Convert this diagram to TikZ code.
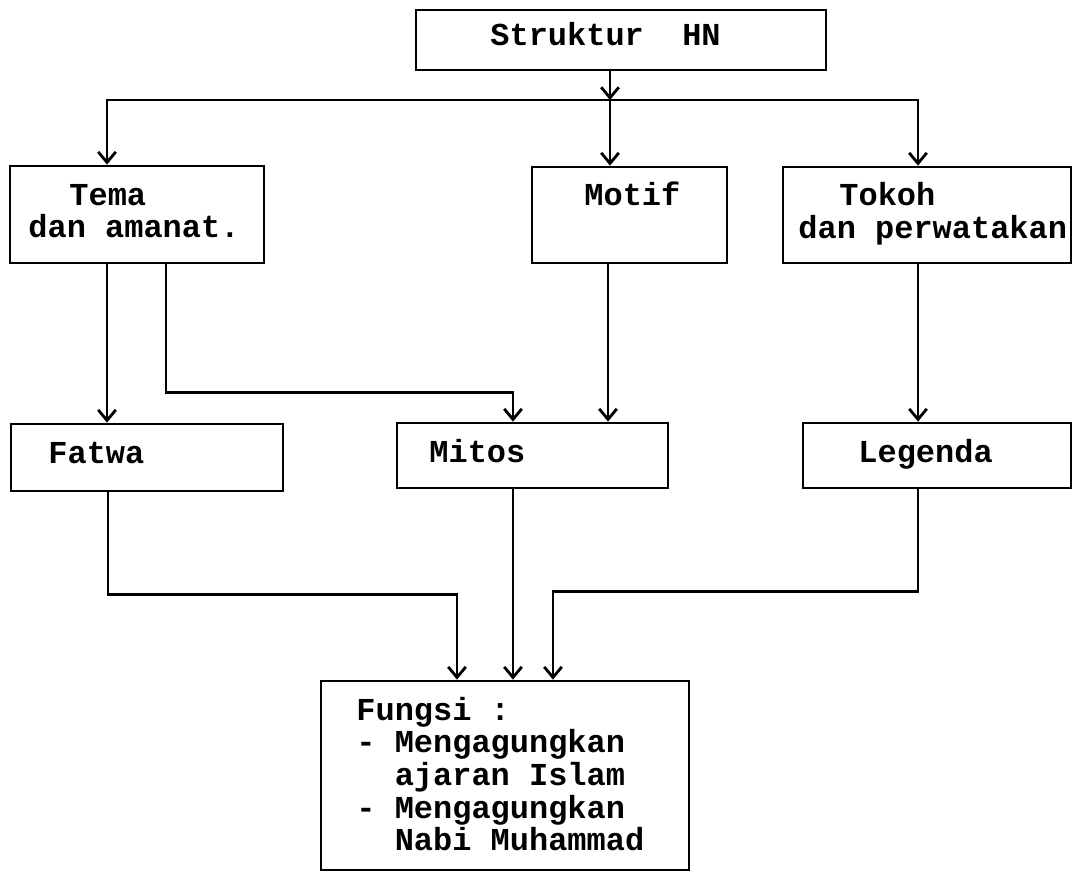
\documentclass[tikz,border=0pt]{standalone}
\usepackage{fontspec}
\setmonofont{Liberation Mono}
\usetikzlibrary{arrows.meta}

\begin{document}
\begin{tikzpicture}[
            x = 0.02cm, y = -0.02cm, % one unit is one pixel of the scan
            > = {Straight Barb[length=6pt,width=10pt]}, % arrow head style
            line width = 1.6pt, % line style
            box/.style = {draw, rectangle, inner sep=0pt},
            txt/.style = {anchor=base west, inner sep=0pt,
                font=\ttfamily\bfseries\fontsize{18.2}{20}\selectfont}
        ]
	\useasboundingbox (0,0) rectangle (1073,873);

	% boxes
	\node[box, minimum width=8.2cm, minimum height=1.2cm] (struktur) at (621,40) {};
	\node[box, minimum width=5.08cm, minimum height=1.94cm] (tema) at (137,214.5) {};
	\node[box, minimum width=3.9cm, minimum height=1.92cm] (motif) at (629.5,215) {};
	\node[box, minimum width=5.76cm, minimum height=1.92cm] (tokoh) at (927,215) {};
	\node[box, minimum width=5.44cm, minimum height=1.34cm] (fatwa) at (147,457.5) {};
	\node[box, minimum width=5.42cm, minimum height=1.3cm] (mitos) at (532.5,455.5) {};
	\node[box, minimum width=5.36cm, minimum height=1.3cm] (legenda) at (937,455.5) {};
	\node[box, minimum width=7.36cm, minimum height=3.78cm] (fungsi) at (505,775.5) {};

	% texts
	\node[txt] (struktur-t) at (489,45) {Struktur~~HN};
	\node[txt] (tema-t1) at (68,205) {Tema};
	\node[txt] (tema-t2) at (27,237) {dan amanat.};
	\node[txt] (motif-t) at (583,205) {Motif};
	\node[txt] (tokoh-t1) at (838,205) {Tokoh};
	\node[txt] (tokoh-t2) at (797,238) {dan perwatakan};
	\node[txt] (fatwa-t) at (47,463) {Fatwa};
	\node[txt] (mitos-t) at (428,462) {Mitos};
	\node[txt] (legenda-t) at (857,462) {Legenda};
	\node[txt] (fungsi-t1) at (355,720) {Fungsi :};
	\node[txt] (fungsi-t2) at (355,752) {- Mengagungkan};
	\node[txt] (fungsi-t3) at (355,785) {~~ajaran Islam};
	\node[txt] (fungsi-t4) at (355,818) {- Mengagungkan};
	\node[txt] (fungsi-t5) at (355,850) {~~Nabi Muhammad};

	% connectors
	\coordinate (hub) at (610,100);
	\draw[->] (struktur.south -| hub) -- (hub);
	\draw[->] (hub) -| ([xshift=-0.6cm]tema.north);
	\draw[->] (hub) -- (hub |- motif.north);
	\draw[->] (hub) -| ([xshift=-0.18cm]tokoh.north);

	\draw[->] ([xshift=-0.6cm]tema.south) -- ([xshift=-0.6cm]tema.south |- fatwa.north);
	\draw[->] ([xshift=0.58cm]tema.south) -- ++(0,128) -| ([xshift=-0.39cm]mitos.north);
	\draw[->] ([xshift=-0.43cm]motif.south) -- ([xshift=-0.43cm]motif.south |- mitos.north);
	\draw[->] ([xshift=-0.18cm]tokoh.south) -- ([xshift=-0.18cm]tokoh.south |- legenda.north);

	\draw[->] ([xshift=-0.78cm]fatwa.south) -- ++(0,102) -| ([xshift=-0.96cm]fungsi.north);
	\draw[->] ([xshift=-0.39cm]mitos.south) -- ([xshift=-0.39cm]mitos.south |- fungsi.north);
	\draw[->] ([xshift=-0.38cm]legenda.south) -- ++(0,102) -| ([xshift=0.96cm]fungsi.north);

\end{tikzpicture}
\end{document}
